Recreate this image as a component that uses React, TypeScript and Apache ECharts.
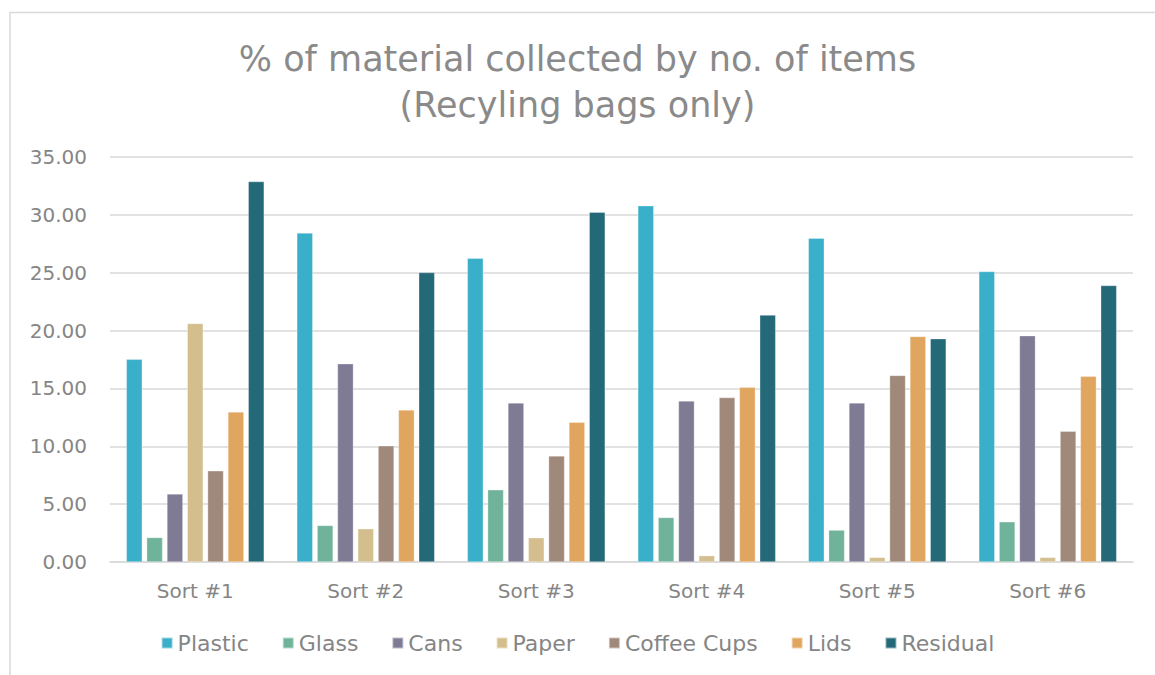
import React, { useEffect, useRef } from "react";
import * as echarts from "echarts";

const categories = ["Sort #1", "Sort #2", "Sort #3", "Sort #4", "Sort #5", "Sort #6"];
const plastic = [17.52, 28.44, 26.26, 30.8, 27.98, 25.11];
const glass = [2.12, 3.16, 6.24, 3.85, 2.76, 3.48];
const cans = [5.89, 17.14, 13.75, 13.92, 13.75, 19.56];
const paper = [20.62, 2.88, 2.1, 0.55, 0.4, 0.4];
const coffeeCups = [7.88, 10.04, 9.17, 14.21, 16.13, 11.3];
const lids = [12.97, 13.14, 12.08, 15.1, 19.5, 16.05];
const residual = [32.88, 25.02, 30.23, 21.34, 19.3, 23.9];

const seriesNames = ["Plastic", "Glass", "Cans", "Paper", "Coffee Cups", "Lids", "Residual"];
const seriesData = [plastic, glass, cans, paper, coffeeCups, lids, residual];
const colors = ["#3AAFC9", "#70B39B", "#7F7B95", "#D4BE8D", "#A0897B", "#E0A55F", "#236978"];

const FONT = "'DejaVu Sans', sans-serif";
const GRAY = "#858585";

export default function App() {
  const ref = useRef<HTMLDivElement>(null);
  useEffect(() => {
    if (!ref.current) return;
    const chart = echarts.init(ref.current, undefined, { renderer: "svg" });
    chart.setOption({
      animation: false,
      color: colors,
      title: {
        text: "% of material collected by no. of items\n(Recyling bags only)",
        left: "center",
        top: 31,
        textStyle: {
          fontFamily: FONT,
          fontSize: 35,
          fontWeight: "normal",
          color: "#8a8a8a",
          lineHeight: 46,
        },
      },
      graphic: [
        {
          type: "polyline",
          shape: { points: [[10, 700], [10, 12.5], [1160, 12.5]] },
          style: { stroke: "#d9d9d9", lineWidth: 1.5, fill: null },
          silent: true,
        },
      ],
      legend: {
        bottom: 16,
        left: "center",
        itemWidth: 11,
        itemHeight: 11,
        itemGap: 33,
        icon: "rect",
        textStyle: { fontFamily: FONT, fontSize: 22, color: GRAY },
        data: seriesNames,
      },
      grid: { left: 110, right: 22, top: 157, bottom: 113, containLabel: false },
      xAxis: {
        type: "category",
        data: categories,
        axisTick: { show: false },
        axisLine: { lineStyle: { color: "#d9d9d9", width: 1.5 } },
        axisLabel: { fontFamily: FONT, fontSize: 20, color: GRAY, margin: 19 },
      },
      yAxis: {
        type: "value",
        min: 0,
        max: 35,
        interval: 5,
        axisLine: { show: false },
        axisTick: { show: false },
        splitLine: { lineStyle: { color: "#d9d9d9", width: 1.5 } },
        axisLabel: {
          fontFamily: FONT,
          fontSize: 20,
          color: GRAY,
          margin: 23,
          formatter: (v: number) => v.toFixed(2),
        },
      },
      series: seriesNames.map((name, i) => ({
        name,
        type: "bar",
        data: seriesData[i],
        barWidth: 16,
        barGap: "27%",
        itemStyle: { borderColor: "rgba(255,255,255,0.5)", borderWidth: 0.6 },
      })),
    });
    return () => chart.dispose();
  }, []);
  return (
    <div
      ref={ref}
      style={{ position: "absolute", left: 0, top: 0, width: 1155, height: 675, background: "#fff" }}
    />
  );
}
